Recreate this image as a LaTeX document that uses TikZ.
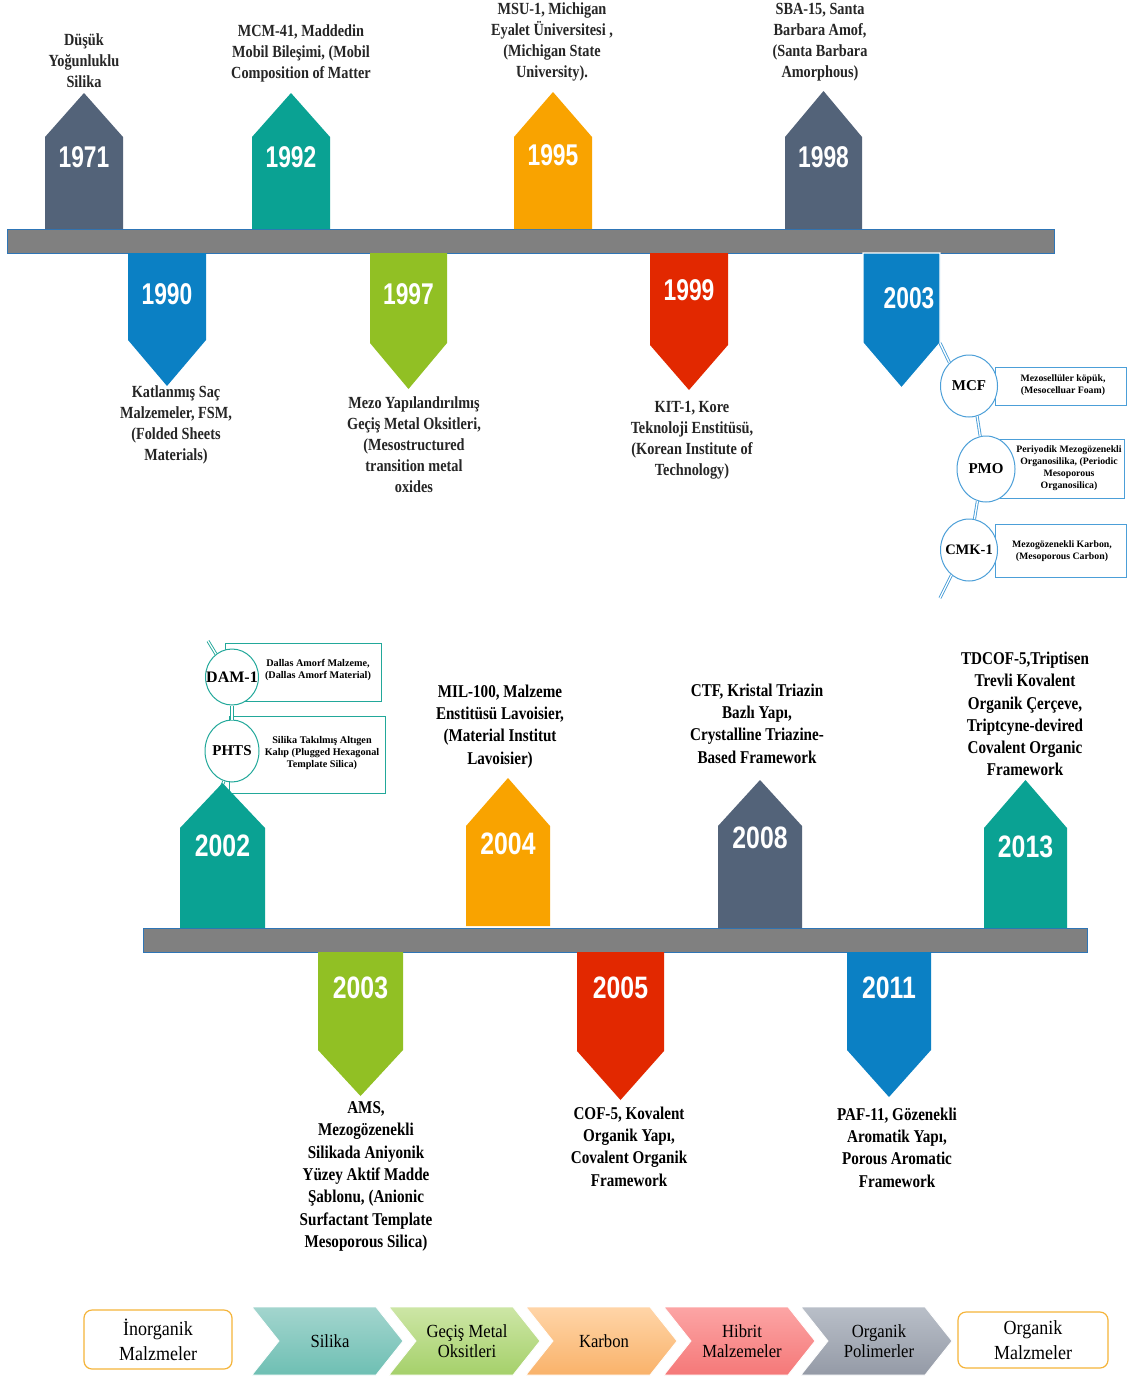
\documentclass[tikz,border=0pt]{standalone}
\usepackage{fontspec}
\setmainfont{Liberation Serif}
\newfontfamily\yearfont[FakeStretch=0.76]{Liberation Sans}
\newfontfamily\yearfontb[FakeStretch=0.8]{Liberation Sans}
\newfontfamily\lblfont[FakeStretch=0.84]{Liberation Serif}
\newfontfamily\legfont[FakeStretch=0.9]{Liberation Serif}
\usetikzlibrary{shapes.geometric}
\definecolor{cslate}{HTML}{536379}
\definecolor{cteal}{HTML}{0AA293}
\definecolor{corange}{HTML}{F9A300}
\definecolor{cblue}{HTML}{0B80C4}
\definecolor{cgreen}{HTML}{91C024}
\definecolor{cred}{HTML}{E22800}
\definecolor{cbar}{HTML}{808080}
\definecolor{cbarline}{HTML}{2E75B6}
\definecolor{ctxt}{HTML}{262626}
\definecolor{csub}{HTML}{4C9FD8}
\definecolor{csubteal}{HTML}{22A89A}
\definecolor{legorange}{HTML}{F5B43A}
\definecolor{chAt}{HTML}{A3D5CE}\definecolor{chAb}{HTML}{6EBFB3}
\definecolor{chBt}{HTML}{CDE6A6}\definecolor{chBb}{HTML}{A5D06A}
\definecolor{chCt}{HTML}{FFD5A8}\definecolor{chCb}{HTML}{F9B26A}
\definecolor{chDt}{HTML}{FCA5A5}\definecolor{chDb}{HTML}{F57878}
\definecolor{chEt}{HTML}{B9BFC8}\definecolor{chEb}{HTML}{949AA6}
\newcommand{\yarrow}[9]{%
  \fill[#1] (#2,#6) -- (#2,#5) -- ({(#2+#3)/2},#4) -- (#3,#5) -- (#3,#6) -- cycle;
  \node[yeartxt] (#9) at ({(#2+#3)/2},#8) {#7};}
\newcommand{\yarrowb}[9]{%
  \fill[#1] (#2,#6) -- (#2,#5) -- ({(#2+#3)/2},#4) -- (#3,#5) -- (#3,#6) -- cycle;
  \node[yeartxtb] (#9) at ({(#2+#3)/2},#8) {#7};}
\newcommand{\chevron}[5]{%
  \shade[top color=#1, bottom color=#2, draw=white, line width=0.8pt]
    (#3,1307) -- ({#3+124},1307) -- ({#3+151},1341) -- ({#3+124},1375) -- (#3,1375) -- ({#3+27},1341) -- cycle;
  \node[chevtxt] (#4) at ({#3+78},1341) {#5};}
\newcommand{\zw}[1]{\makebox[0pt]{#1}}
\tikzset{
  yeartxt/.style={text=white, font=\yearfont\bfseries\fontsize{30}{30}\selectfont, inner sep=0},
  yeartxtb/.style={text=white, font=\yearfontb\bfseries\fontsize{31}{31}\selectfont, inner sep=0},
  lbl/.style={text=ctxt, align=center, font=\lblfont\bfseries\fontsize{17}{21}\selectfont, inner sep=0},
  lblb/.style={text=black, align=center, font=\lblfont\bfseries\fontsize{18}{22.3}\selectfont, inner sep=0},
  subcirc/.style={ellipse, draw=#1, fill=white, line width=1pt, inner sep=0, font=\bfseries\fontsize{15}{15}\selectfont},
  subrect/.style={rectangle, draw=#1, fill=white, line width=1pt, inner sep=0},
  subtxt/.style={align=center, font=\bfseries\fontsize{9.8}{11.8}\selectfont, inner sep=0},
  subtxtb/.style={align=center, font=\bfseries\fontsize{10.2}{12.2}\selectfont, inner sep=0},
  sublink/.style={draw=#1, double=white, double distance=1.3pt, line width=0.9pt},
  legbox/.style={draw=legorange, rounded corners=8pt, line width=1.2pt, fill=white, align=center,
     font=\legfont\fontsize{20}{25}\selectfont, inner sep=0},
  chevtxt/.style={align=center, font=\legfont\fontsize{18.5}{20}\selectfont, inner sep=0},
  barstyle/.style={fill=cbar, draw=cbarline, line width=0.8pt},
}
\begin{document}
\begin{tikzpicture}[x=1pt,y=-1pt]
\useasboundingbox (0,0) rectangle (1129,1376);
\fill[white] (0,0) rectangle (1129,1376);

% ================= TOP TIMELINE =================
\path[barstyle] (7,229) rectangle (1054,253);

% up arrows
\yarrow{cslate}{45}{123}{93}{137}{229}{1971}{157}{y1971}
\yarrow{cteal}{252}{330}{93}{137}{229}{1992}{157}{y1992}
\yarrow{corange}{514}{592}{92}{137}{229}{1995}{155}{y1995}
\yarrow{cslate}{785}{862}{91}{137}{229}{1998}{157}{y1998}
% down arrows
\yarrow{cblue}{128}{206}{386}{340}{253}{1990}{294}{y1990}
\yarrow{cgreen}{370}{447}{389}{343}{253}{1997}{294}{y1997}
\yarrow{cred}{650}{728}{390}{345}{253}{1999}{290}{y1999}
\draw[white, line width=1.2pt, fill=cblue] (863,253) -- (863,343) -- (901.5,388) -- (940,343) -- (940,253) -- cycle;
\node[yeartxt] (y2003a) at (909,298) {2003};

% labels
\node[lbl] (t1971) at (84,61) {Düşük\\Yoğunluklu\\Silika};
\node[lbl] (t1992) at (301,53) {MCM-41, Maddedin\\Mobil Bileşimi, (Mobil\\Composition of Matter};
\node[lbl] (t1995) at (552,42) {MSU-1, Michigan\\Eyalet Üniversitesi ,\\(Michigan State\\University).};
\node[lbl] (t1998) at (820,42) {SBA-15, Santa\\Barbara Amof,\\(Santa Barbara\\Amorphous)};
\node[lbl] (t1990) at (176,425) {Katlanmış Saç\\Malzemeler, FSM,\\(Folded Sheets\\Materials)};
\node[lbl] (t1997) at (414,445) {Mezo Yapılandırılmış\\Geçiş Metal Oksitleri,\\(Mesostructured\\transition metal\\oxides};
\node[lbl] (t1999) at (692,440) {KIT-1, Kore\\Teknoloji Enstitüsü,\\(Korean Institute of\\Technology)};

% 2003 sub diagram
\node[subrect=csub, minimum width=131pt, minimum height=38pt] (mcfr) at (1060.5,386) {};
\node[subrect=csub, minimum width=124pt, minimum height=59pt] (pmor) at (1062,468.5) {};
\node[subrect=csub, minimum width=131pt, minimum height=53pt] (cmkr) at (1060.5,550.5) {};
\node[subtxt] (mcft) at (1063,385) {Mezosellüler köpük,\\(Mesocelluar Foam)};
\node[subtxt] (pmot) at (1069,468) {Periyodik Mezogözenekli\\Organosilika, (Periodic\\Mesoporous\\Organosilica)};
\node[subtxt] (cmkt) at (1062,551) {Mezogözenekli Karbon,\\(Mesoporous Carbon)};
\coordinate (c03) at (940,343);
\coordinate (c03e) at (940,598);
\node[subcirc=csub, minimum width=57pt, minimum height=62pt] (mcf) at (969,386) {\zw{MCF}};
\node[subcirc=csub, minimum width=58pt, minimum height=66pt] (pmo) at (986,469) {\zw{PMO}};
\node[subcirc=csub, minimum width=57pt, minimum height=62pt] (cmk) at (969,550) {\zw{\fontsize{14.5}{14.5}\selectfont CMK-1}};
\path[sublink=csub] (c03) -- (mcf.130);
\path[sublink=csub] (mcf.285) -- (pmo.100);
\path[sublink=csub] (pmo.255) -- (cmk.80);
\path[sublink=csub] (cmk.235) -- (c03e);

% ================= BOTTOM TIMELINE =================
\path[barstyle] (143,928) rectangle (1087,952);

% 2002 sub diagram
\node[subrect=csubteal, minimum width=156pt, minimum height=58pt] (damr) at (303,672) {};
\node[subrect=csubteal, minimum width=156pt, minimum height=77pt] (phtsr) at (307,754.5) {};
\node[subtxtb] (damt) at (318,670) {Dallas Amorf Malzeme,\\(Dallas Amorf Material)};
\node[subtxtb] (phtst) at (322,753) {Silika Takılmış Altıgen\\Kalıp (Plugged Hexagonal\\Template Silica)};
\coordinate (c02e) at (208,641);
\coordinate (c02) at (221,788);
\node[subcirc=csubteal, minimum width=53pt, minimum height=56pt] (dam) at (232,677) {\zw{\fontsize{16}{16}\selectfont DAM-1}};
\node[subcirc=csubteal, minimum width=54pt, minimum height=62pt] (phts) at (232,751) {\zw{PHTS}};
\path[sublink=csubteal] (c02e) -- (dam.125);
\path[sublink=csubteal] (dam.270) -- (phts.90);
\path[sublink=csubteal] (phts.255) -- (c02);

% up arrows
\yarrowb{cteal}{180}{265}{783}{828}{928}{2002}{846}{y2002}
\yarrowb{corange}{466}{550}{778}{826}{926}{2004}{844}{y2004}
\yarrowb{cslate}{718}{802}{780}{826}{928}{2008}{838}{y2008}
\yarrowb{cteal}{984}{1067}{780}{828}{928}{2013}{847}{y2013}
% down arrows
\yarrowb{cgreen}{318}{403}{1096}{1050}{952}{2003}{988}{y2003b}
\yarrowb{cred}{577}{664}{1100}{1051}{952}{2005}{988}{y2005}
\yarrowb{cblue}{847}{931}{1097}{1050}{952}{2011}{988}{y2011}

% labels
\node[lblb] (t2004) at (500,726.5) {MIL-100, Malzeme\\Enstitüsü Lavoisier,\\(Material Institut\\Lavoisier)};
\node[lblb] (t2008) at (757,723.5) {CTF, Kristal Triazin\\Bazlı Yapı,\\Crystalline Triazine-\\Based Framework};
\node[lblb] (t2013) at (1025,714) {TDCOF-5,Triptisen\\Trevli Kovalent\\Organik Çerçeve,\\Triptcyne-devired\\Covalent Organic\\Framework};
\node[lblb] (t2003b) at (366,1176.5) {AMS,\\Mezogözenekli\\Silikada Aniyonik\\Yüzey Aktif Madde\\Şablonu, (Anionic\\Surfactant Template\\Mesoporous Silica)};
\node[lblb] (t2005) at (629,1146.5) {COF-5, Kovalent\\Organik Yapı,\\Covalent Organik\\Framework};
\node[lblb] (t2011) at (897,1147.5) {PAF-11, Gözenekli\\Aromatik Yapı,\\Porous Aromatic\\Framework};

% ================= LEGEND =================
\node[legbox, minimum width=148pt, minimum height=59pt] (inorg) at (158,1339.5) {İnorganik\\Malzmeler};
\chevron{chAt}{chAb}{252}{ch1}{Silika}
\chevron{chBt}{chBb}{389}{ch2}{Geçiş Metal\\Oksitleri}
\chevron{chCt}{chCb}{526}{ch3}{Karbon}
\chevron{chDt}{chDb}{664}{ch4}{Hibrit\\Malzemeler}
\chevron{chEt}{chEb}{801}{ch5}{Organik\\Polimerler}
\node[legbox, minimum width=150pt, minimum height=56pt] (org) at (1033,1340) {Organik\\Malzmeler};
\end{tikzpicture}
\end{document}
